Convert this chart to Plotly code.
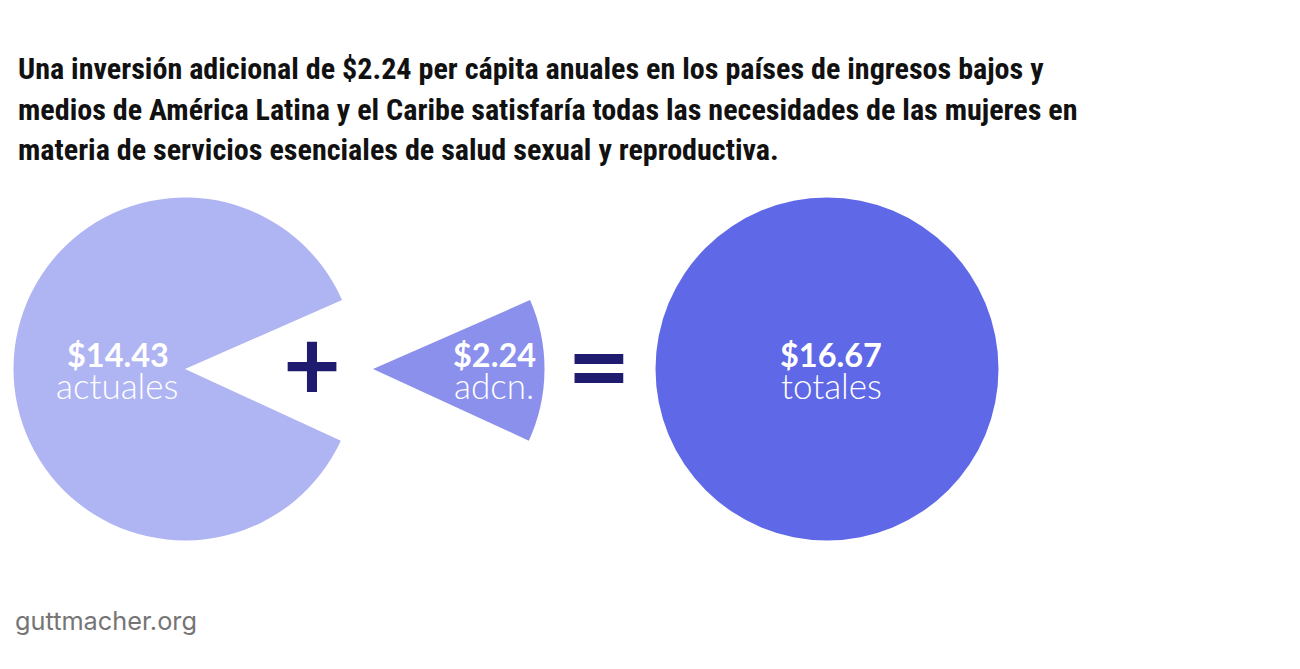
import plotly.graph_objects as go

# the page keeps a margin of 8px around the figure
OFFSET = 8
W, H = 1300 - 2 * OFFSET, 669 - 2 * OFFSET

title_lines = [
    "Una inversión adicional de $2.24 per cápita anuales en los países de ingresos bajos y",
    "medios de América Latina y el Caribe satisfaría todas las necesidades de las mujeres en",
    "materia de servicios esenciales de salud sexual y reproductiva.",
]
current = 14.43
additional = 2.24
total = 16.67
amount_labels = ["$14.43", "$2.24", "$16.67"]
word_labels = ["actuales", "adcn.", "totales"]
colors = ["#AFB4F3", "#8A90EC", "#5F68E6"]
navy = "#1F1B6E"

# half of the gap, in degrees, either side of 3 o'clock
half_gap = additional / total * 180
tilt = 0.5


def pie(values, pie_colors, rotation, cx, cy, r):
    cx, cy = cx - OFFSET, cy - OFFSET
    return go.Pie(
        values=values,
        sort=False,
        direction="clockwise",
        rotation=rotation,
        hole=0,
        textinfo="none",
        hoverinfo="skip",
        showlegend=False,
        marker=dict(colors=pie_colors, line=dict(width=0)),
        domain=dict(x=[(cx - r) / W, (cx + r) / W], y=[1 - (cy + r) / H, 1 - (cy - r) / H]),
    )


fig = go.Figure()
fig.add_trace(pie([current, additional], [colors[0], "rgba(0,0,0,0)"], 90 + half_gap + tilt, 185, 369, 171.5))
fig.add_trace(pie([additional, current], [colors[1], "rgba(0,0,0,0)"], 90 - half_gap + tilt, 373, 369, 171.5))
fig.add_trace(pie([total], [colors[2]], 0, 827, 369, 171.5))


def label(text, x, y, size, font="Lato", color="white", anchor="center"):
    fig.add_annotation(
        text=text, x=(x - OFFSET) / W, y=1 - (y - OFFSET) / H, xref="paper", yref="paper",
        xanchor=anchor, yanchor="middle", showarrow=False,
        font=dict(family=font, size=size, color=color),
    )


for line, y in zip(title_lines, [68, 109, 150]):
    label("<b>" + line + "</b>", 16, y, 30.1, "Roboto Condensed", "#111111", "left")

for text, x in zip(amount_labels, [118, 494, 831]):
    label("<b>" + text + "</b>", x, 354, 32.5)
for text, x in zip(word_labels, [117, 494, 831]):
    label(text, x, 385.5, 35, "Lato Light")

label("<b>+</b>", 312, 361, 100, "Lato", navy)
label("<b>=</b>", 599, 362, 110, "Lato", navy)
label("guttmacher.org", 13, 620, 25.3, "Inter", "#757575", "left")

fig.update_layout(
    width=W, height=H,
    margin=dict(l=0, r=0, t=0, b=0),
    paper_bgcolor="white",
    plot_bgcolor="white",
)

fig.write_html("out.html")
